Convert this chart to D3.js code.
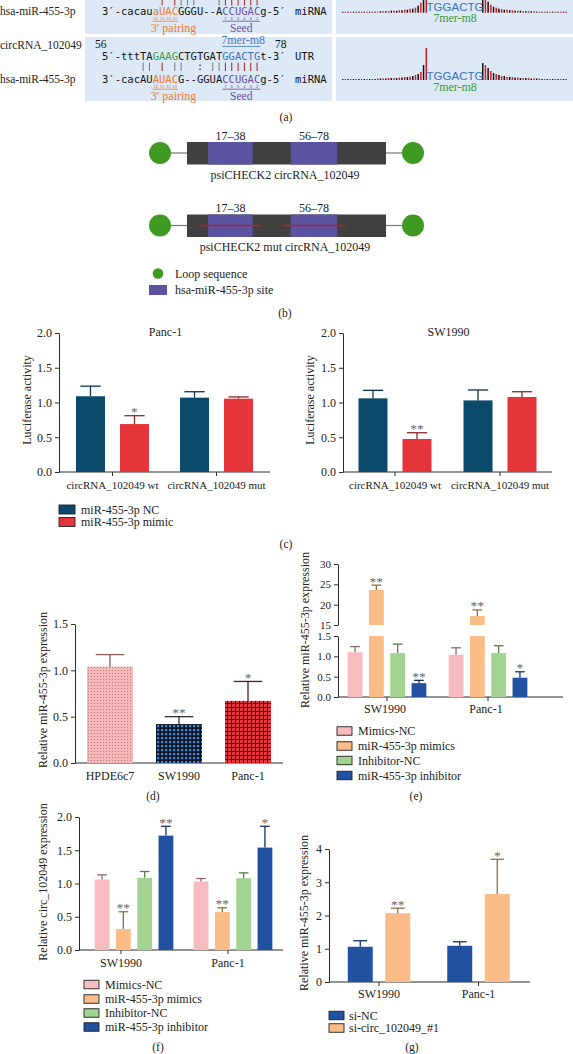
<!DOCTYPE html>
<html><head><meta charset="utf-8">
<script src="https://cdn.jsdelivr.net/npm/d3@7"></script>
<style>
html,body{margin:0;padding:0;background:#fff;}
svg{display:block;}
</style></head><body>
<svg id="fig" width="573" height="1054"></svg>
<script>
// ================= DATA =================
// (a) sequence alignment
const seqLabels = ["hsa-miR-455-3p", "circRNA_102049", "hsa-miR-455-3p"];
const miRNA1 = "3′-cacauaUACGGGU--ACCUGACg-5′";
const utr2 = "5′-tttTAGAAGCTGTGATGGACTGt-3′";
const miRNA2 = "3′-cacAUAUACG--GGUACCUGACg-5′";
const pairingIdx = [8, 9, 10, 11];
const seedIdx = [19, 20, 21, 22, 23, 24];
const pairingNums = ["16", "15", "14", "13"];
const seedNums = ["7", "6", "5", "4", "3", "2"];
const pairs1 = [{i:9,t:"|",k:"r"},{i:11,t:"|",k:"r"},{i:12,t:"|",k:"g"},{i:13,t:"|",k:"g"},{i:14,t:"|",k:"g"},{i:18,t:"|",k:"g"},{i:19,t:"|",k:"r"},{i:20,t:"|",k:"r"},{i:21,t:"|",k:"r"},{i:22,t:"|",k:"r"},{i:23,t:"|",k:"r"},{i:24,t:"|",k:"r"}];
const pairs2 = [{i:6,t:"|",k:"g"},{i:7,t:"|",k:"g"},{i:9,t:"|",k:"r"},{i:11,t:"|",k:"g"},{i:12,t:"|",k:"g"},{i:15,t:":",k:"g"},{i:17,t:"|",k:"g"},{i:18,t:"|",k:"g"},{i:19,t:"|",k:"r"},{i:20,t:"|",k:"r"},{i:21,t:"|",k:"r"},{i:22,t:"|",k:"r"},{i:23,t:"|",k:"r"},{i:24,t:"|",k:"r"}];
const siteSeq = "TGGACTG";
const siteType = "7mer-m8";
const profTopLeft = [1,1,1,1,1,1,1,1,1,1,1,1,1,1,1.5,1.5,1.5,1.5,2,2,2,2.5,2.5,3,3,4,4,5,7,10,16,22];
const profTopRight = [22,18,11,8,6,5,4,3.5,3,3,2.5,2.5,2,2,2,1.5,1.5,1.5,1.5,1.5,1,1,1,1,1,1,1,1,1,1,1,1];
const profBotLeft = [1,1,1,1,1,1,1,1,1,1,1,1,1,1.5,1.5,1.5,1.5,2,2,2,2,2.5,2.5,3,3,3.5,4,5,6,8,15,32];
const profBotRight = [17,15,12,9,7,6,5,4,4,3,3,3,2.5,2.5,2,2,2,2,1.5,1.5,1.5,1.5,1,1,1,1,1,1,1,1,1,1];

// (b) constructs
const constructNames = ["psiCHECK2 circRNA_102049", "psiCHECK2 mut circRNA_102049"];
const constructMutant = [false, true];
const constructSpan = [7, 101];
const siteStarts = [17, 56];
const siteEnds = [38, 78];
const bLegend = ["Loop sequence", "hsa-miR-455-3p site"];

// (c) luciferase
const cGroups = ["circRNA_102049 wt", "circRNA_102049 mut"];
const cSeries = ["miR-455-3p NC", "miR-455-3p mimic"];
const cPancValues = [[1.09, 0.69], [1.07, 1.055]];
const cPancErr = [[0.145, 0.12], [0.085, 0.025]];
const cPancSig = [["", "*"], ["", ""]];
const cSwValues = [[1.06, 0.475], [1.03, 1.08]];
const cSwErr = [[0.115, 0.09], [0.15, 0.075]];
const cSwSig = [["", "**"], ["", ""]];
const cTicks = [0, 0.5, 1.0, 1.5, 2.0];

// (d) expression in cell lines
const dCategories = ["HPDE6c7", "SW1990", "Panc-1"];
const dValues = [1.04, 0.42, 0.67];
const dErr = [0.13, 0.08, 0.21];
const dSig = ["", "**", "*"];
const dTicks = [0, 0.5, 1.0, 1.5];

// (e) miR-455-3p after mimics/inhibitor
const eGroups = ["SW1990", "Panc-1"];
const eSeries = ["Mimics-NC", "miR-455-3p mimics", "Inhibitor-NC", "miR-455-3p inhibitor"];
const eValues = [[1.10, 23.6, 1.08, 0.34], [1.04, 17.2, 1.08, 0.475]];
const eErr = [[0.14, 1.2, 0.22, 0.07], [0.17, 1.5, 0.18, 0.145]];
const eSig = [["", "**", "", "**"], ["", "**", "", "*"]];
const eTicksLow = [0, 0.5, 1.0, 1.5];
const eTicksHigh = [15, 20, 25, 30];

// (f) circ_102049 after mimics/inhibitor
const fGroups = ["SW1990", "Panc-1"];
const fSeries = eSeries;
const fValues = [[1.06, 0.315, 1.085, 1.72], [1.03, 0.57, 1.08, 1.54]];
const fErr = [[0.07, 0.26, 0.095, 0.14], [0.045, 0.065, 0.08, 0.32]];
const fSig = [["", "**", "", "**"], ["", "**", "", "*"]];
const fTicks = [0, 0.5, 1.0, 1.5, 2.0];

// (g) miR-455-3p after si-circ
const gGroups = ["SW1990", "Panc-1"];
const gSeries = ["si-NC", "si-circ_102049_#1"];
const gValues = [[1.06, 2.07], [1.09, 2.65]];
const gErr = [[0.18, 0.15], [0.12, 1.04]];
const gSig = [["", "**"], ["", "*"]];
const gTicks = [0, 1, 2, 3, 4];

// ================= DRAWING =================
const svg = d3.select("#fig");
const SERIF = '"Liberation Serif","Times New Roman",serif';
const MONO = '"DejaVu Sans Mono","Liberation Mono",monospace';
const SANS = '"Liberation Sans",Arial,sans-serif';
const AX = "#2a2a2a";
const ORANGE = "#ee7a2c", PURPLE = "#6b4ea3", GREEN = "#3c9a3c", BLUE = "#3b6fc0";
const PAIR_RED = "#9a2a22", PAIR_GRAY = "#777";

function txt(x, y, s, o = {}) {
  return svg.append("text").attr("x", x).attr("y", y).text(s)
    .attr("font-family", o.ff || SERIF).attr("font-size", o.fs || 11.5)
    .attr("fill", o.fill || "#222").attr("text-anchor", o.anchor || "start");
}

// ---------- (a) ----------
const boxFill = "#dde9f6";
[[85, 332, -4, 34], [336, 573, -4, 34], [85, 332, 37, 101], [336, 573, 37, 101]].forEach(b => {
  svg.append("rect").attr("x", b[0]).attr("y", b[2]).attr("width", b[1] - b[0]).attr("height", b[3] - b[2]).attr("fill", boxFill);
});
txt(0, 15, seqLabels[0], {fs: 11.5});
txt(0, 49, seqLabels[1], {fs: 11.5});
txt(0, 83, seqLabels[2], {fs: 11.5});

const charX = d3.scaleLinear().domain([0, 29]).range([102, 102 + 29 * 6.33]);
function seqRow(str, baseline, colorFn) {
  svg.append("g").selectAll("text").data(Array.from(str)).join("text")
    .attr("x", (d, i) => charX(i + 0.5)).attr("y", baseline).attr("text-anchor", "middle")
    .attr("font-family", MONO).attr("font-size", 10.5).attr("fill", (d, i) => colorFn(i)).text(d => d);
}
const mirColor = i => pairingIdx.includes(i) ? ORANGE : seedIdx.includes(i) ? PURPLE : "#111";
const utrColor = i => pairingIdx.includes(i) ? GREEN : seedIdx.includes(i) ? BLUE : "#111";

function numbersAndLabels(numBase, lineY, labelBase) {
  pairingIdx.forEach((ci, k) => txt(charX(ci + 0.5), numBase, pairingNums[k], {fs: 4.2, fill: ORANGE, anchor: "middle", ff: SANS}));
  seedIdx.forEach((ci, k) => txt(charX(ci + 0.5), numBase, seedNums[k], {fs: 4.2, fill: PURPLE, anchor: "middle", ff: SANS}));
  svg.append("line").attr("x1", charX(pairingIdx[0])).attr("x2", charX(pairingIdx[pairingIdx.length - 1] + 1)).attr("y1", lineY).attr("y2", lineY).attr("stroke", ORANGE).attr("stroke-width", 0.8);
  svg.append("line").attr("x1", charX(seedIdx[0])).attr("x2", charX(seedIdx[seedIdx.length - 1] + 1)).attr("y1", lineY).attr("y2", lineY).attr("stroke", PURPLE).attr("stroke-width", 0.8);
  txt(charX(11.3), labelBase, "3′ pairing", {fs: 12, fill: ORANGE, anchor: "middle"});
  txt(charX(22), labelBase, "Seed", {fs: 11.5, fill: PURPLE, anchor: "middle"});
}
function pairMarks(list, y1, y2) {
  list.forEach(p => {
    const col = p.k === "r" ? PAIR_RED : PAIR_GRAY;
    if (p.t === "|") svg.append("line").attr("x1", charX(p.i + 0.5)).attr("x2", charX(p.i + 0.5)).attr("y1", y1).attr("y2", y2).attr("stroke", col).attr("stroke-width", 1);
    else txt(charX(p.i + 0.5), y2 - 1, ":", {ff: MONO, fs: 10, anchor: "middle", fill: "#333"});
  });
}
// row 1
pairMarks(pairs1, -2, 5.5);
seqRow(miRNA1, 15, mirColor);
txt(295, 15, "miRNA", {ff: MONO, fs: 10.5, fill: "#111"});
numbersAndLabels(19.6, 21.2, 31.5);
// row 2
txt(95, 47.5, "56", {fs: 11.5, fill: "#111"});
txt(275, 47.5, "78", {fs: 11.5, fill: "#111"});
txt(charX(22.3), 44, siteType, {fs: 12, fill: "#4a78c4", anchor: "middle"});
svg.append("line").attr("x1", charX(19)).attr("x2", charX(25)).attr("y1", 46.5).attr("y2", 46.5).attr("stroke", "#4a78c4").attr("stroke-width", 0.8);
seqRow(utr2, 60, utrColor);
txt(295, 60, "UTR", {ff: MONO, fs: 10.5, fill: "#111"});
pairMarks(pairs2, 62.5, 71);
seqRow(miRNA2, 83, mirColor);
txt(295, 83, "miRNA", {ff: MONO, fs: 10.5, fill: "#111"});
numbersAndLabels(87.6, 89.2, 99.5);

// right-hand profiles
function profile(left, right, base) {
  const hs = d3.scaleLinear().domain([0, 1]).range([0, 1]);
  const xl = d3.scaleBand().domain(d3.range(left.length)).range([342, 427]).paddingInner(0.45);
  const xr = d3.scaleBand().domain(d3.range(right.length)).range([482, 567]).paddingInner(0.45);
  const g = svg.append("g");
  g.selectAll(".l").data(left).join("rect").attr("x", (d, i) => xl(i)).attr("width", xl.bandwidth())
    .attr("y", d => base - hs(d)).attr("height", d => hs(d))
    .attr("fill", (d, i) => ((left.length - 1 - i) % 2 === 0) ? "#e0161e" : "#111");
  g.selectAll(".r").data(right).join("rect").attr("x", (d, i) => xr(i)).attr("width", xr.bandwidth())
    .attr("y", d => base - hs(d)).attr("height", d => hs(d))
    .attr("fill", (d, i) => (i % 2 === 0) ? "#111" : "#e0161e");
}
profile(profTopLeft, profTopRight, 12.7);
profile(profBotLeft, profBotRight, 80);
txt(455, 10.5, siteSeq, {ff: SANS, fs: 11.5, fill: BLUE, anchor: "middle"});
txt(455, 22, siteType, {fs: 12, fill: GREEN, anchor: "middle"});
txt(455, 79.5, siteSeq, {ff: SANS, fs: 11.5, fill: BLUE, anchor: "middle"});
txt(455, 91, siteType, {fs: 12, fill: GREEN, anchor: "middle"});

// ---------- (b) ----------
const seqX = d3.scaleLinear().domain(constructSpan).range([187, 386]);
const rowY = d3.scalePoint().domain(constructNames).range([153, 225.5]);
constructNames.forEach((name, ri) => {
  const cy = rowY(name);
  const g = svg.append("g");
  g.append("line").attr("x1", 160).attr("x2", seqX(constructSpan[0])).attr("y1", cy).attr("y2", cy).attr("stroke", "#777").attr("stroke-width", 1.2);
  g.append("line").attr("x1", seqX(constructSpan[1])).attr("x2", 413).attr("y1", cy).attr("y2", cy).attr("stroke", "#777").attr("stroke-width", 1.2);
  g.append("circle").attr("cx", 160).attr("cy", cy).attr("r", 11).attr("fill", "#3f9a22");
  g.append("circle").attr("cx", 413).attr("cy", cy).attr("r", 11).attr("fill", "#3f9a22");
  g.append("rect").attr("x", seqX(constructSpan[0])).attr("width", seqX(constructSpan[1]) - seqX(constructSpan[0]))
    .attr("y", cy - 11).attr("height", 22.5).attr("fill", "#404040");
  siteStarts.forEach((s, si) => {
    const e = siteEnds[si];
    g.append("rect").attr("x", seqX(s)).attr("width", seqX(e) - seqX(s)).attr("y", cy - 11).attr("height", 22.5).attr("fill", "#5953a2");
    txt((seqX(s) + seqX(e)) / 2, cy - 13.5, s + "–" + e, {anchor: "middle", fs: 12});
    if (constructMutant[ri]) {
      g.append("line").attr("x1", seqX(s - 4)).attr("x2", seqX(e + 4)).attr("y1", cy).attr("y2", cy).attr("stroke", "#b4202a").attr("stroke-width", 1.3);
    }
  });
  txt(285, cy + 25.5, name, {anchor: "middle", fs: 12});
});
svg.append("circle").attr("cx", 158).attr("cy", 273.5).attr("r", 5.3).attr("fill", "#3f9a22");
txt(175, 277.5, bLegend[0], {fs: 12});
svg.append("rect").attr("x", 149).attr("y", 285).attr("width", 18).attr("height", 10).attr("fill", "#5953a2");
txt(175, 293.5, bLegend[1], {fs: 12});

// panel letters
[["(a)", 286, 121], ["(b)", 285, 317], ["(c)", 286, 548], ["(d)", 153, 800], ["(e)", 416, 800], ["(f)", 158, 1051], ["(g)", 412, 1051]]
  .forEach(p => txt(p[1], p[2], p[0], {anchor: "middle", fs: 11.5}));

// ---------- generic bar chart helpers ----------
function yAxis(scale, x, ticks, fmt, fs) {
  const a = d3.axisLeft(scale).tickValues(ticks).tickFormat(d3.format(fmt)).tickSize(4).tickSizeOuter(0).tickPadding(3);
  const ag = svg.append("g").attr("transform", `translate(${x},0)`).call(a);
  ag.selectAll("text").attr("font-family", SERIF).attr("font-size", fs || 12).attr("fill", "#222");
  ag.selectAll("path,line").attr("stroke", AX).attr("stroke-width", 1);
  return ag;
}
function xAxisLine(x0, x1, y, tickXs) {
  svg.append("line").attr("x1", x0).attr("x2", x1).attr("y1", y).attr("y2", y).attr("stroke", AX).attr("stroke-width", 1);
  (tickXs || []).forEach(tx => svg.append("line").attr("x1", tx).attr("x2", tx).attr("y1", y).attr("y2", y + 4).attr("stroke", AX));
}
function yLabel(x, cy, s) {
  svg.append("text").attr("transform", `translate(${x},${cy}) rotate(-90)`).attr("text-anchor", "middle")
    .attr("dy", "0.35em").attr("font-family", SERIF).attr("font-size", 12).attr("fill", "#222").text(s);
}
function bars(o) {
  const rows = [];
  o.groups.forEach((grp, gi) => o.series.forEach((s, si) =>
    rows.push({grp, s, si, v: o.values[gi][si], e: o.errs[gi][si], sig: o.sigs[gi][si]})));
  const bw = o.sx.bandwidth();
  const cx = d => o.gx(d.grp) + o.sx(d.s) + bw / 2;
  const g = svg.append("g");
  rows.forEach(d => {
    o.segs(d.v).forEach(([yb, yt]) => g.append("rect").attr("x", cx(d) - bw / 2).attr("width", bw)
      .attr("y", yt).attr("height", yb - yt).attr("fill", o.fills[d.si]));
  });
  rows.forEach(d => {
    const yv = o.yTop(d.v), ye = o.yTop(d.v + d.e);
    const col = o.errColors ? o.errColors[d.si] : d3.color(o.fills[d.si]).darker(0.9).formatHex();
    const cw = bw * (o.capFrac || 0.62);
    g.append("line").attr("x1", cx(d)).attr("x2", cx(d)).attr("y1", yv).attr("y2", ye).attr("stroke", col).attr("stroke-width", 1.3);
    g.append("line").attr("x1", cx(d) - cw / 2).attr("x2", cx(d) + cw / 2).attr("y1", ye).attr("y2", ye).attr("stroke", col).attr("stroke-width", 1.3);
    if (d.sig) g.append("text").attr("x", cx(d)).attr("y", ye + 0.5).attr("text-anchor", "middle")
      .attr("font-family", SERIF).attr("font-size", 13.5).attr("fill", "#666").text(d.sig);
  });
}
function legend(x, ys, labels, fills, w, h, tx) {
  labels.forEach((l, i) => {
    svg.append("rect").attr("x", x).attr("y", ys[i] - h / 2).attr("width", w).attr("height", h)
      .attr("fill", fills[i]).attr("stroke", "#222").attr("stroke-width", 0.9);
    txt(tx, ys[i] + 4, l, {fs: 12});
  });
}
function seriesBand(series, step, bw) {
  const n = series.length;
  const pi = 1 - bw / step;
  return d3.scaleBand().domain(series).range([-n * step / 2, n * step / 2]).paddingInner(pi).paddingOuter(pi / 2);
}

// ---------- (c) ----------
const C_NC = "#0c4a6b", C_MIM = "#e5353b";
function cPanel(ax, axEnd, pad, values, errs, sigs, title) {
  const y = d3.scaleLinear().domain([0, 2]).range([472, 333]);
  const gx = d3.scalePoint().domain(cGroups).range([ax, axEnd]).padding(pad);
  const sx = seriesBand(cSeries, 44, 29);
  yAxis(y, ax, cTicks, ".1f");
  xAxisLine(ax, axEnd, y(0), cGroups.map(gx));
  cGroups.forEach(gr => txt(gx(gr), y(0) + 17, gr, {anchor: "middle", fs: 11}));
  bars({groups: cGroups, series: cSeries, values, errs, sigs, fills: [C_NC, C_MIM],
        errColors: ["#0a3550", "#8a2a2a"], gx, sx, segs: v => [[y(0), y(v)]], yTop: y, capFrac: 0.7});
  txt((ax + axEnd) / 2 + 1, 336, title, {anchor: "middle", fs: 12});
}
cPanel(59, 270, 0.514, cPancValues, cPancErr, cPancSig, "Panc-1");
cPanel(343, 552, 0.495, cSwValues, cSwErr, cSwSig, "SW1990");
yLabel(27, 400, "Luciferase activity");
yLabel(310, 400, "Luciferase activity");
legend(59, [509.5, 522], cSeries, [C_NC, C_MIM], 16, 9, 81);

// ---------- (d) ----------
const defs = svg.append("defs");
const p1 = defs.append("pattern").attr("id", "patPink").attr("patternUnits", "userSpaceOnUse").attr("width", 3).attr("height", 3);
p1.append("rect").attr("width", 3).attr("height", 3).attr("fill", "#f5b8b8");
p1.append("circle").attr("cx", 1.5).attr("cy", 1.5).attr("r", 0.55).attr("fill", "#b86a6a");
const p2 = defs.append("pattern").attr("id", "patBlue").attr("patternUnits", "userSpaceOnUse").attr("width", 4).attr("height", 4);
p2.append("rect").attr("width", 4).attr("height", 4).attr("fill", "#0f1628");
p2.append("rect").attr("x", 1).attr("y", 1).attr("width", 2.2).attr("height", 2.2).attr("fill", "#3f88dc");
const p3 = defs.append("pattern").attr("id", "patRed").attr("patternUnits", "userSpaceOnUse").attr("width", 4).attr("height", 4);
p3.append("rect").attr("width", 4).attr("height", 4).attr("fill", "#2a0c0e");
p3.append("rect").attr("x", 0).attr("y", 0).attr("width", 3).attr("height", 3).attr("fill", "#e8343e");
{
  const y = d3.scaleLinear().domain([0, 1.5]).range([763, 624]);
  const gx = d3.scalePoint().domain(dCategories).range([75, 283]).padding(0.507);
  yAxis(y, 75, dTicks, ".1f");
  xAxisLine(75, 283, y(0), []);
  dCategories.forEach(c => txt(gx(c), y(0) + 17, c, {anchor: "middle", fs: 12}));
  const fills = ["url(#patPink)", "url(#patBlue)", "url(#patRed)"];
  const errC = ["#8a5a5a", "#333", "#5a1a1a"];
  dCategories.forEach((c, i) => {
    const sxi = d3.scaleBand().domain([c]).range([-23, 23]);
    bars({groups: [c], series: [c], values: [[dValues[i]]], errs: [[dErr[i]]], sigs: [[dSig[i]]],
          fills: [fills[i]], errColors: [errC[i]], gx, sx: sxi, segs: v => [[y(0), y(v)]], yTop: y, capFrac: 0.62});
  });
  yLabel(43, 690, "Relative miR-455-3p expression");
}

// ---------- (e) ----------
const E_FILLS = ["#f7bcc0", "#fbbd87", "#a2d391", "#2251a2"];
const E_ERR = ["#8a6a6a", "#9a6a40", "#5a7a50", "#132f66"];
{
  const yLo = d3.scaleLinear().domain([0, 1.5]).range([697, 636]);
  const yHi = d3.scaleLinear().domain([15, 30]).range([625, 564]);
  const gx = d3.scalePoint().domain(eGroups).range([387, 488]);
  const sx = seriesBand(eSeries, 21.3, 14.8);
  yAxis(yLo, 338, eTicksLow, ".1f", 11);
  yAxis(yHi, 338, eTicksHigh, "d", 11);
  xAxisLine(338, 563, yLo(0), eGroups.map(gx));
  eGroups.forEach(gr => txt(gx(gr) - 2, yLo(0) + 16, gr, {anchor: "middle", fs: 12}));
  const segs = v => v >= 15 ? [[yLo(0), yLo(1.5)], [yHi(15), yHi(v)]] : [[yLo(0), yLo(v)]];
  const yTop = v => v >= 15 ? yHi(v) : yLo(v);
  bars({groups: eGroups, series: eSeries, values: eValues, errs: eErr, sigs: eSig, fills: E_FILLS, errColors: E_ERR,
        gx, sx, segs, yTop, capFrac: 0.65});
  yLabel(305, 630, "Relative miR-455-3p expression");
  legend(337, [731, 746, 760.5, 775.5], eSeries, E_FILLS, 15, 8.5, 358);
}

// ---------- (f) ----------
{
  const y = d3.scaleLinear().domain([0, 2]).range([950, 817]);
  const gx = d3.scalePoint().domain(fGroups).range([134, 233]);
  const lx = d3.scalePoint().domain(fGroups).range([121, 228]);
  const sx = seriesBand(fSeries, 21.3, 14.8);
  yAxis(y, 79, fTicks, ".1f");
  xAxisLine(79, 283, y(0), fGroups.map(lx));
  fGroups.forEach(gr => txt(lx(gr), y(0) + 17, gr, {anchor: "middle", fs: 12}));
  bars({groups: fGroups, series: fSeries, values: fValues, errs: fErr, sigs: fSig, fills: E_FILLS, errColors: E_ERR,
        gx, sx, segs: v => [[y(0), y(v)]], yTop: y, capFrac: 0.65});
  yLabel(43, 882, "Relative circ_102049 expression");
  legend(84, [984.5, 999, 1013, 1027], fSeries, E_FILLS, 15, 8.5, 105);
}

// ---------- (g) ----------
{
  const G_FILLS = ["#2251a2", "#fbbd87"];
  const y = d3.scaleLinear().domain([0, 4]).range([982, 849]);
  const gx = d3.scalePoint().domain(gGroups).range([379, 478.5]);
  const sx = seriesBand(gSeries, 37.5, 25);
  yAxis(y, 329, gTicks, "d");
  xAxisLine(329, 530, y(0), gGroups.map(gx));
  gGroups.forEach(gr => txt(gx(gr), y(0) + 16, gr, {anchor: "middle", fs: 12}));
  bars({groups: gGroups, series: gSeries, values: gValues, errs: gErr, sigs: gSig, fills: G_FILLS,
        errColors: ["#132f66", "#9a6a40"], gx, sx, segs: v => [[y(0), y(v)]], yTop: y, capFrac: 0.55});
  yLabel(304, 913, "Relative miR-455-3p expression");
  legend(329, [1015.5, 1028], gSeries, G_FILLS, 15, 8.5, 349);
}
</script>
</body></html>
